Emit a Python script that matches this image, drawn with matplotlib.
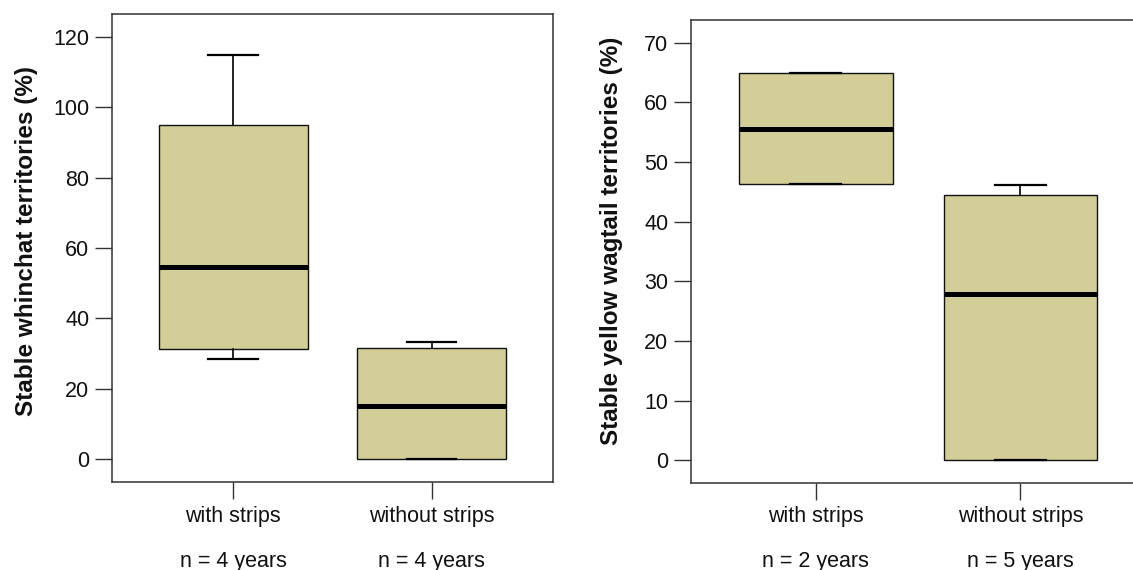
import matplotlib
matplotlib.use("Agg")
import matplotlib.pyplot as plt

plt.rcParams['font.family'] = ['Liberation Sans', 'DejaVu Sans']

# Box summaries
groups = ['with strips', 'without strips']

# whinchat (left panel)
wc_n = ['n = 4 years', 'n = 4 years']
wc_whislo = [28.4, 0.0]
wc_q1 = [31.3, 0.0]
wc_med = [54.5, 15.0]
wc_q3 = [95.0, 31.6]
wc_whishi = [114.9, 33.3]
wc_ticks = [0, 20, 40, 60, 80, 100, 120]

# yellow wagtail (right panel)
yw_n = ['n = 2 years', 'n = 5 years']
yw_whislo = [46.3, 0.0]
yw_q1 = [46.3, 0.0]
yw_med = [55.6, 27.8]
yw_q3 = [65.0, 44.5]
yw_whishi = [65.0, 46.2]
yw_ticks = [0, 10, 20, 30, 40, 50, 60, 70]

fill = '#d3cd98'
W, H = 1133, 570

fig = plt.figure(figsize=(W / 100, H / 100), dpi=100)


def panel(rect, whislo, q1, med, q3, whishi, ticks, ylim, ylabel, ns, label_xy):
    ax = fig.add_axes(rect)
    stats = []
    for i in range(len(groups)):
        stats.append(dict(whislo=whislo[i], q1=q1[i], med=med[i], q3=q3[i],
                          whishi=whishi[i], label=groups[i]))
    ax.bxp(stats, positions=[1, 2], widths=0.75, showfliers=False,
           patch_artist=True,
           boxprops=dict(facecolor=fill, edgecolor='#111111', linewidth=1.0),
           medianprops=dict(color='black', linewidth=3.6, solid_capstyle='butt'),
           whiskerprops=dict(color='black', linewidth=1.2),
           capprops=dict(color='black', linewidth=1.6),
           capwidths=0.25)
    ax.set_xlim(0.388, 2.612)
    ax.set_ylim(*ylim)
    ax.set_yticks(ticks)
    ax.tick_params(axis='both', length=12, width=1.0, color='#333333',
                   labelsize=15.5, labelcolor='#111111')
    ax.tick_params(axis='y', pad=4)
    ax.tick_params(axis='x', pad=5)
    for s in ax.spines.values():
        s.set_color('#333333')
        s.set_linewidth(1.1)
    ax.set_ylabel(ylabel, fontsize=17.5, fontweight='bold', color='#111111',
                  va='center')
    ax.yaxis.set_label_coords(*label_xy)
    for i, t in enumerate(ns):
        ax.text(i + 1, -0.1816, t, transform=ax.get_xaxis_transform(),
                ha='center', va='baseline', fontsize=15.5, color='#111111')
    return ax


panel([111.7 / W, (H - 482) / H, (553 - 111.7) / W, (482 - 14) / H],
      wc_whislo, wc_q1, wc_med, wc_q3, wc_whishi, wc_ticks, (-6.5, 126.5),
      'Stable whinchat territories (%)', wc_n, (-0.194, 0.515))

panel([690.7 / W, (H - 482.7) / H, 455 / W, (482.7 - 20) / H],
      yw_whislo, yw_q1, yw_med, yw_q3, yw_whishi, yw_ticks, (-3.75, 73.8),
      'Stable yellow wagtail territories (%)', yw_n, (-0.175, 0.522))

fig.savefig('out.png', dpi=100)
